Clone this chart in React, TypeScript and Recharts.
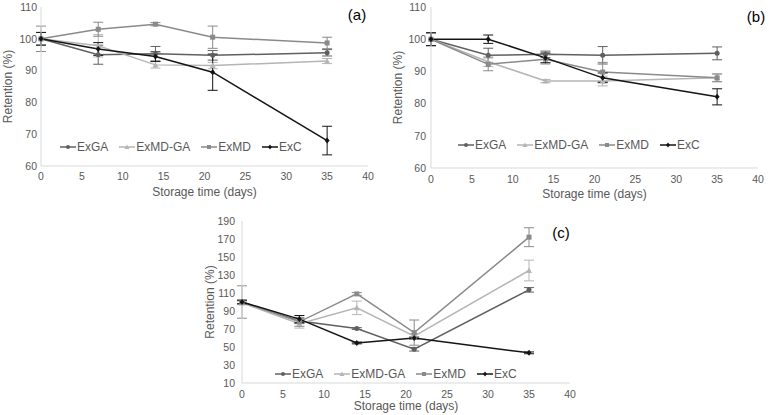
import React from 'react';
import { LineChart, Line, XAxis, YAxis, ErrorBar, Legend } from 'recharts';

const FONT = '"Liberation Sans", Arial, sans-serif';
const TEXT = '#595959';
const AXIS = '#d9d9d9';

const days = [0, 7, 14, 21, 35];
const xTicks = [0, 5, 10, 15, 20, 25, 30, 35, 40];

// panel (a)
const aExGA = [100, 95, 95.3, 94.8, 95.6];
const aExGAErr = [2, 3, 2.3, 1.5, 1];
const aExMDGA = [100, 97.8, 91.8, 91.6, 93];
const aExMDGAErr = [2, 3.5, 1, 1, 0.8];
const aExMD = [100, 103, 104.6, 100.5, 98.7];
const aExMDErr = [4, 2.2, 0.5, 3.5, 1.8];
const aExC = [100, 96.8, 94.4, 89.5, 68];
const aExCErr = [2, 2, 1.5, 5.7, 4.5];
const aTicks = [60, 70, 80, 90, 100, 110];

// panel (b)
const bExGA = [100, 95, 95.3, 95, 95.6];
const bExGAErr = [2, 2.2, 1, 2.7, 2];
const bExMDGA = [100, 93, 87, 87, 88];
const bExMDGAErr = [2, 1.5, 0.5, 1.5, 1.2];
const bExMD = [100, 92.2, 93.8, 89.8, 88];
const bExMDErr = [2, 2, 1.5, 3, 1.2];
const bExC = [100, 100, 94.2, 88, 82.1];
const bExCErr = [2, 1.3, 1.5, 1.5, 2.5];
const bTicks = [60, 70, 80, 90, 100, 110];

// panel (c)
const cExGA = [100, 79, 70.5, 47.5, 113.5];
const cExGAErr = [2, 3, 1, 2, 2.5];
const cExMDGA = [99, 76, 93.5, 62, 135];
const cExMDGAErr = [2, 5, 7.5, 3, 11.5];
const cExMD = [100, 78, 109, 66, 172];
const cExMDErr = [18, 5, 1.5, 14, 10.5];
const cExC = [100, 81, 54.5, 60, 43.5];
const cExCErr = [2, 4, 1, 1, 1];
const cTicks = [10, 30, 50, 70, 90, 110, 130, 150, 170, 190];

const seriesStyle = [
  { name: 'ExGA', color: '#606060', shape: 'circle' },
  { name: 'ExMD-GA', color: '#b5b5b5', shape: 'triangle' },
  { name: 'ExMD', color: '#8a8a8a', shape: 'square' },
  { name: 'ExC', color: '#141414', shape: 'diamond' },
];

const toPoints = (vals: number[], errs: number[]) =>
  days.map((d, i) => ({ day: d, value: vals[i], err: errs[i] }));

const Marker = ({ shape, cx, cy, color, size = 5 }: any) => {
  const h = size / 2;
  if (shape === 'circle') return <circle cx={cx} cy={cy} r={h} fill={color} />;
  if (shape === 'triangle')
    return <polygon points={`${cx},${cy - h - 0.5} ${cx + h + 0.5},${cy + h} ${cx - h - 0.5},${cy + h}`} fill={color} />;
  if (shape === 'square') return <rect x={cx - h} y={cy - h} width={size} height={size} fill={color} />;
  return <polygon points={`${cx},${cy - h - 0.5} ${cx + h},${cy} ${cx},${cy + h + 0.5} ${cx - h},${cy}`} fill={color} />;
};

const renderLegend = () => (
  <div style={{ display: 'flex', alignItems: 'center', fontFamily: FONT, fontSize: 12, color: TEXT, whiteSpace: 'nowrap' }}>
    {seriesStyle.map((s) => (
      <div key={s.name} style={{ display: 'flex', alignItems: 'center', marginRight: 11 }}>
        <svg width={16} height={8}>
          <line x1={0} y1={4} x2={16} y2={4} stroke={s.color} strokeWidth={1.5} />
          <Marker shape={s.shape} cx={8} cy={4} color={s.color} size={4} />
        </svg>
        <span style={{ marginLeft: 1 }}>{s.name}</span>
      </div>
    ))}
  </div>
);

const Panel = ({ left, top, width, height, margin, xHeight, yWidth, yDomain, yTicks, data, xTickMargin, yTickMargin,
  xTitleOffset, yTitleOffset, legendLeft, legendTop, tag, tagX, tagY }: any) => (
  <div style={{ position: 'absolute', left, top, width, height }}>
    <LineChart width={width} height={height} margin={margin}>
      <XAxis
        type="number"
        dataKey="day"
        domain={[0, 40]}
        ticks={xTicks}
        height={xHeight}
        stroke={AXIS}
        tickLine={false}
        tickSize={0}
        tickMargin={xTickMargin}
        tick={{ fill: TEXT, fontSize: 10.5, fontFamily: FONT }}
        label={{ value: 'Storage time (days)', position: 'insideBottom', offset: xTitleOffset, fill: TEXT, fontSize: 12, fontFamily: FONT }}
      />
      <YAxis
        type="number"
        domain={yDomain}
        ticks={yTicks}
        width={yWidth}
        stroke={AXIS}
        tickLine={false}
        tickSize={0}
        tickMargin={yTickMargin}
        tick={{ fill: TEXT, fontSize: 10.5, fontFamily: FONT }}
        label={{ value: 'Retention (%)', angle: -90, position: 'insideLeft', offset: yTitleOffset, fill: TEXT, fontSize: 12, fontFamily: FONT, style: { textAnchor: 'middle' } }}
      />
      <Legend
        layout="horizontal"
        verticalAlign="middle"
        align="center"
        content={renderLegend}
        wrapperStyle={{ left: legendLeft, top: legendTop, width: 'auto' }}
      />
      {seriesStyle.map((s, k) => (
        <Line
          key={s.name}
          name={s.name}
          data={data[k]}
          dataKey="value"
          stroke={s.color}
          strokeWidth={1.5}
          isAnimationActive={false}
          dot={(p: any) => <Marker key={`${s.name}-${p.index}`} shape={s.shape} cx={p.cx} cy={p.cy} color={s.color} size={5} />}
          activeDot={false}
        >
          <ErrorBar dataKey="err" direction="y" width={5} stroke={s.color} strokeWidth={1} isAnimationActive={false} />
        </Line>
      ))}
    </LineChart>
    <div style={{ position: 'absolute', left: tagX, top: tagY, transform: 'translate(-50%, -50%)', fontFamily: FONT, fontSize: 15, color: '#000' }}>
      {tag}
    </div>
  </div>
);

export default function App() {
  return (
    <div style={{ position: 'absolute', left: 0, top: 0, width: 769, height: 415, background: '#fff', overflow: 'hidden' }}>
      <Panel
        left={0} top={0} width={385} height={205}
        margin={{ top: 7, right: 17, bottom: 0, left: 0 }} xHeight={39}
        yWidth={41} yDomain={[60, 110]} yTicks={aTicks}
        data={[toPoints(aExGA, aExGAErr), toPoints(aExMDGA, aExMDGAErr), toPoints(aExMD, aExMDErr), toPoints(aExC, aExCErr)]}
        xTickMargin={7} yTickMargin={4} xTitleOffset={9} yTitleOffset={8}
        legendLeft={60} legendTop={140} tag="(a)" tagX={357} tagY={14}
      />
      <Panel
        left={385} top={0} width={384} height={205}
        margin={{ top: 7, right: 11, bottom: 0, left: 0 }} xHeight={37}
        yWidth={46} yDomain={[60, 110]} yTicks={bTicks}
        data={[toPoints(bExGA, bExGAErr), toPoints(bExMDGA, bExMDGAErr), toPoints(bExMD, bExMDErr), toPoints(bExC, bExCErr)]}
        xTickMargin={8} yTickMargin={5} xTitleOffset={7} yTitleOffset={12.5}
        legendLeft={73} legendTop={138} tag="(b)" tagX={371} tagY={16}
      />
      <Panel
        left={190} top={200} width={400} height={215}
        margin={{ top: 21, right: 20, bottom: 0, left: 0 }} xHeight={32}
        yWidth={52} yDomain={[10, 190]} yTicks={cTicks}
        data={[toPoints(cExGA, cExGAErr), toPoints(cExMDGA, cExMDGAErr), toPoints(cExMD, cExMDErr), toPoints(cExC, cExCErr)]}
        xTickMargin={8} yTickMargin={7} xTitleOffset={5} yTitleOffset={20}
        legendLeft={85} legendTop={167} tag="(c)" tagX={371} tagY={32}
      />
    </div>
  );
}
